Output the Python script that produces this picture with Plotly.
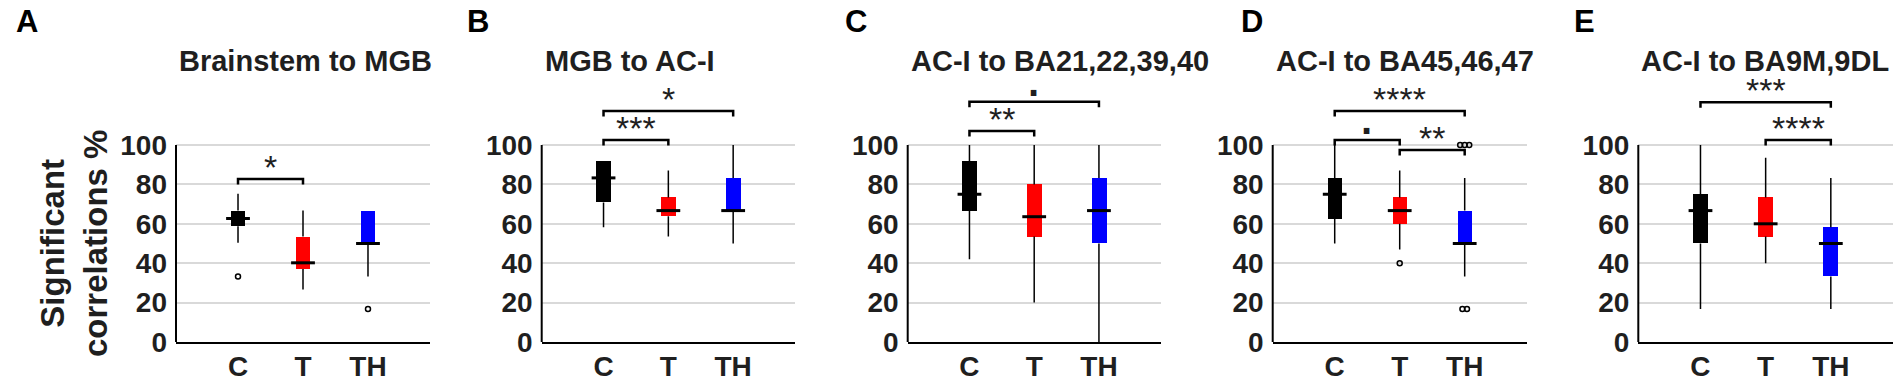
import plotly.graph_objects as go

# ---------------- data ----------------
categories = ["C", "T", "TH"]
panel_letters = ["A", "B", "C", "D", "E"]
panel_titles = ["Brainstem to MGB", "MGB to AC-I", "AC-I to BA21,22,39,40",
                "AC-I to BA45,46,47", "AC-I to BA9M,9DL"]

whisker_low = [[50.4, 26.7, 33.3], [58.3, 53.5, 50.0], [42.0, 20.0, 0.0],
               [50.0, 47.0, 33.3], [16.7, 40.0, 16.7]]
q1_vals = [[58.8, 37.0, 50.0], [70.8, 63.8, 66.7], [66.7, 53.5, 50.0],
           [62.5, 60.0, 50.0], [50.0, 53.5, 33.3]]
median_vals = [[62.7, 40.2, 50.0], [83.3, 66.7, 66.7], [75.0, 63.6, 66.7],
               [75.0, 66.7, 50.0], [66.7, 60.0, 50.0]]
q3_vals = [[66.7, 53.5, 66.7], [91.7, 73.4, 83.3], [91.7, 80.0, 83.3],
           [83.3, 73.4, 66.7], [75.0, 73.4, 58.3]]
whisker_high = [[75.3, 66.7, 66.7], [91.7, 87.0, 100.0], [100.0, 100.0, 100.0],
                [100.0, 87.0, 83.3], [100.0, 93.5, 83.3]]
outliers = [[[33.3], [], [16.7]], [[], [], []], [[], [], []],
            [[], [40.0], [100.0, 100.0, 100.0, 16.7, 16.7]], [[], [], []]]

sig_pairs = [[(0, 1)], [(0, 1), (0, 2)], [(0, 1), (0, 2)],
             [(0, 2), (0, 1), (1, 2)], [(0, 2), (1, 2)]]
sig_labels = [["*"], ["***", "*"], ["**", "·"], ["****", "·", "**"], ["***", "****"]]

# ---------------- style / layout ----------------
W, H = 1901, 381            # browser window (page margin removed below)


def px2x(px):
    return px / W


def py2y(py):
    return 1 - py / H


box_colors = ["#000000", "#ff0000", "#0000ff"]
text_color = "#1f1f1f"
FONT = "Liberation Sans, Arial, sans-serif"
panel_px = [(176, 430), (541.7, 795), (907.7, 1160.7), (1272.7, 1526.7), (1638.3, 1893)]
letter_px = [14, 465, 843, 1239, 1572]
px_per_unit = 1.97          # 100 units = 197 px
zero_px = 342               # pixel row of y = 0
y_top = 135                 # axis range extends above 100 to host brackets
top_px = zero_px - y_top * px_per_unit
bracket_levels = [[82.7], [102.5, 117.3], [107.1, 122.0], [117.3, 102.5, 97.5], [121.7, 102.5]]
bracket_drop = 2.8
box_w = 0.23
jitter_dx = 0.07

fig = go.Figure()
ydom = [py2y(zero_px), py2y(top_px)]

for p in range(5):
    sfx = "" if p == 0 else str(p + 1)
    xa, ya = "x" + sfx, "y" + sfx
    xs = list(range(len(categories)))

    # whiskers (two segments so they don't cross the boxes)
    wx, wy = [], []
    for i in xs:
        wx += [i, i, None, i, i, None]
        wy += [whisker_low[p][i], q1_vals[p][i], None, q3_vals[p][i], whisker_high[p][i], None]
    fig.add_trace(go.Scatter(x=wx, y=wy, mode="lines", line=dict(color="black", width=1.5),
                             xaxis=xa, yaxis=ya, showlegend=False, hoverinfo="skip"))
    # boxes
    fig.add_trace(go.Bar(x=xs, y=[q3_vals[p][i] - q1_vals[p][i] for i in xs],
                         base=q1_vals[p], width=box_w,
                         marker=dict(color=box_colors, line=dict(width=0)),
                         xaxis=xa, yaxis=ya, showlegend=False))
    # medians
    fig.add_trace(go.Scatter(x=xs, y=median_vals[p], mode="markers",
                             marker=dict(symbol="line-ew", size=17, color="black",
                                         line=dict(color="black", width=3)),
                             xaxis=xa, yaxis=ya, showlegend=False, cliponaxis=False))
    # outliers
    ox, oy = [], []
    for i in xs:
        groups = {}
        for v in outliers[p][i]:
            groups[v] = groups.get(v, 0) + 1
        for v, n in groups.items():
            for k in range(n):
                ox.append(i + (k - (n - 1) / 2) * jitter_dx)
                oy.append(v)
    if ox:
        fig.add_trace(go.Scatter(x=ox, y=oy, mode="markers",
                                 marker=dict(symbol="circle-open", size=5, color="black",
                                             line=dict(color="black", width=1.5)),
                                 xaxis=xa, yaxis=ya, showlegend=False, cliponaxis=False))
    # significance brackets
    for (i, j), lab, lvl in zip(sig_pairs[p], sig_labels[p], bracket_levels[p]):
        fig.add_trace(go.Scatter(x=[i, i, j, j],
                                 y=[lvl - bracket_drop, lvl, lvl, lvl - bracket_drop],
                                 mode="lines", line=dict(color="black", width=2.5),
                                 xaxis=xa, yaxis=ya, showlegend=False, hoverinfo="skip"))
        is_dot = lab == "·"
        fig.add_annotation(x=(i + j) / 2, y=lvl, xref=xa, yref=ya, showarrow=False,
                           text=f"<b>{lab}</b>" if is_dot else lab,
                           font=dict(family=FONT, size=40 if is_dot else 34, color=text_color),
                           yanchor="middle", xanchor="center",
                           yshift=9 if is_dot else 12)

    # y axis line only from 0 to 100
    fig.add_shape(type="line", xref=f"{xa} domain", yref=ya, x0=0, x1=0, y0=0, y1=100,
                  line=dict(color="black", width=2), layer="above")

    x0, x1 = panel_px[p]
    fig.layout["xaxis" + sfx] = dict(
        domain=[px2x(x0), px2x(x1)], range=[-0.954, 2.954], anchor=ya,
        tickvals=xs, ticktext=categories, showgrid=False, ticks="",
        showline=True, linecolor="black", linewidth=2, zeroline=False, automargin=False,
        tickfont=dict(family=FONT, size=28, color=text_color, weight="bold"),
        ticklabelstandoff=-2, fixedrange=True)
    fig.layout["yaxis" + sfx] = dict(
        domain=ydom, range=[0, y_top], anchor=xa,
        tickvals=[0, 20, 40, 60, 80, 100], showgrid=True, gridcolor="#d9d9d9", gridwidth=1.5,
        showline=False, zeroline=False, automargin=False, ticks="",
        tickfont=dict(family=FONT, size=28, color=text_color, weight="bold"),
        ticklabelstandoff=8, fixedrange=True)

    # panel title
    fig.add_annotation(x=px2x(x0 + 1), y=py2y(61), xref="paper", yref="paper",
                       text=f"<b>{panel_titles[p]}</b>", showarrow=False,
                       xanchor="left", yanchor="middle",
                       font=dict(family=FONT, size=29, color=text_color))
    # panel letter
    fig.add_annotation(x=px2x(letter_px[p]), y=py2y(21), xref="paper", yref="paper",
                       text=f"<b>{panel_letters[p]}</b>", showarrow=False,
                       xanchor="left", yanchor="middle",
                       font=dict(family=FONT, size=31, color="#000000"))

# y-axis title
fig.add_annotation(x=px2x(73.5), y=py2y((145 + zero_px) / 2),
                   xref="paper", yref="paper", textangle=-90, showarrow=False,
                   text="<b>Significant<br>correlations %</b>",
                   xanchor="center", yanchor="middle",
                   font=dict(family=FONT, size=33, color=text_color))

fig.update_layout(template="none", width=W, height=H, margin=dict(l=0, r=0, t=0, b=0),
                  paper_bgcolor="white", plot_bgcolor="white", barmode="overlay",
                  bargap=0, showlegend=False)

fig.write_html("out.html", config={"displayModeBar": False},
               post_script="document.body.style.margin='0';document.body.style.overflow='hidden';")
